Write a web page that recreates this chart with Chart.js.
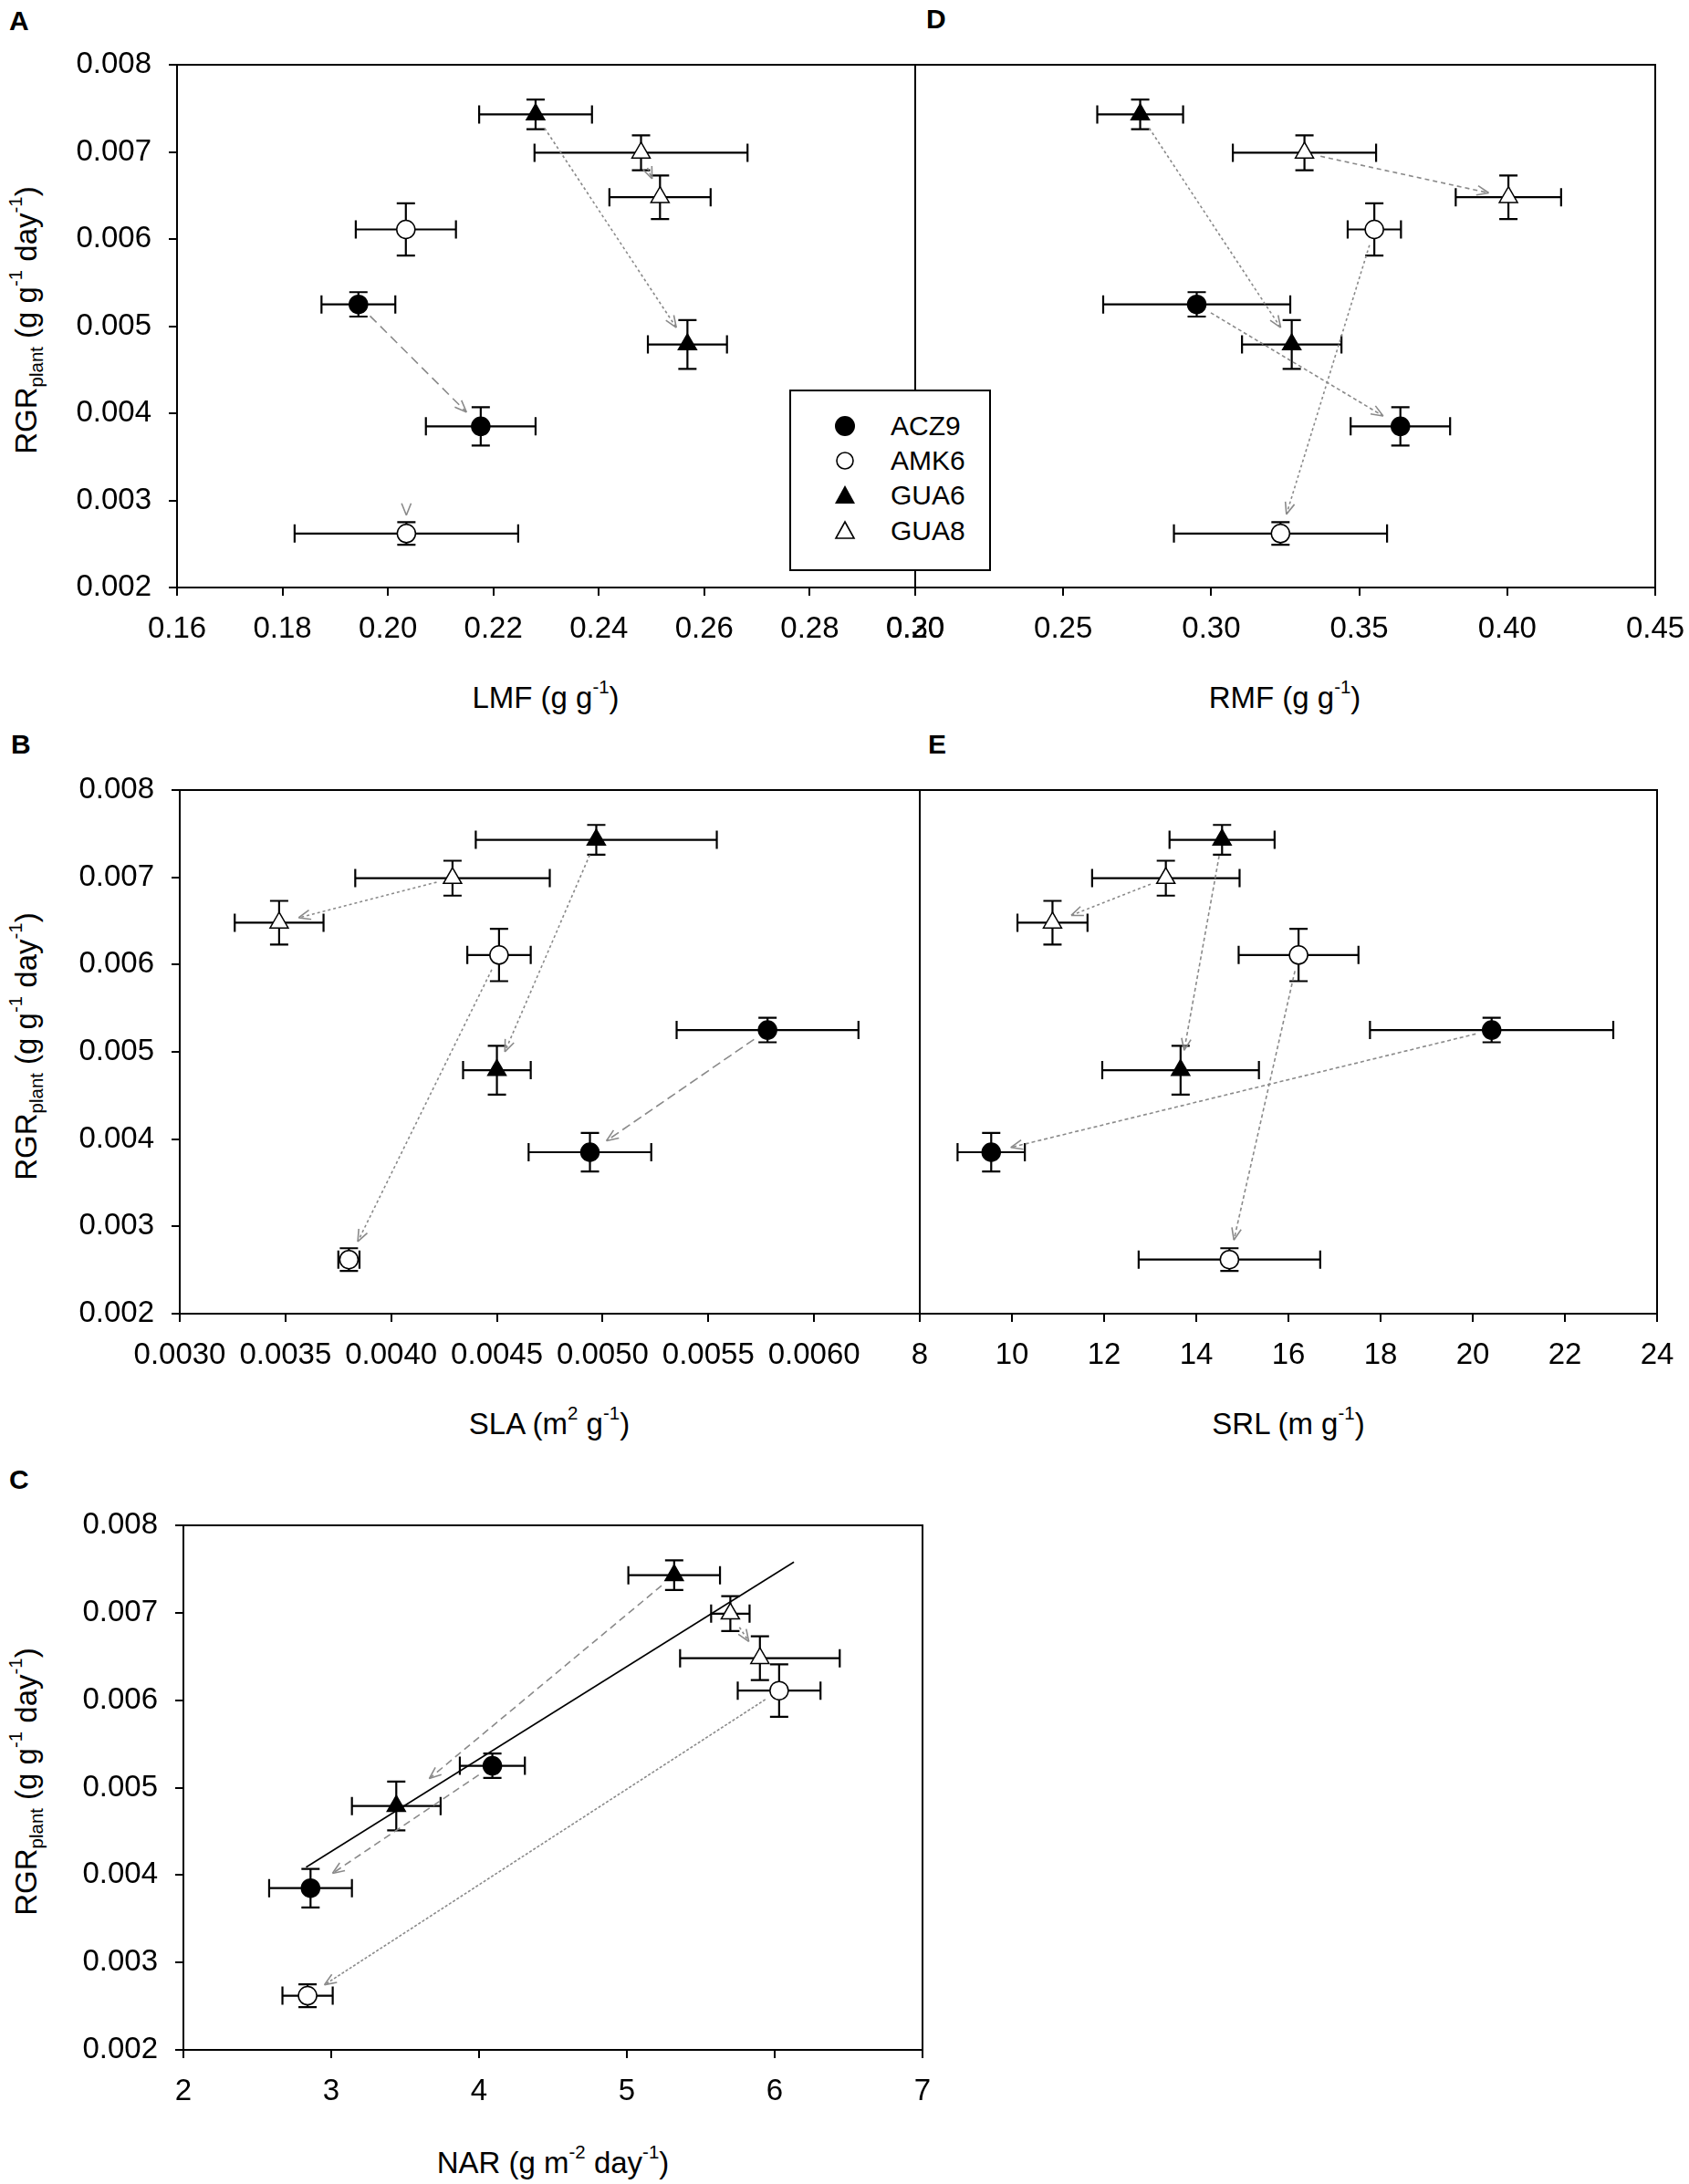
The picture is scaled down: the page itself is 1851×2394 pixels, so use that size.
<!DOCTYPE html>
<html>
<head>
<meta charset="utf-8">
<script src="https://cdn.jsdelivr.net/npm/chart.js@4.4.0/dist/chart.umd.min.js"></script>
<style>
  html, body { margin: 0; padding: 0; background: #fff; }
  #page { position: relative; width: 1851px; height: 2394px; overflow: hidden;
          font-family: "Liberation Sans", Arial, sans-serif; color: #000; }
  canvas { position: absolute; }
  .lbl { position: absolute; font-size: 33px; line-height: 1; white-space: nowrap;
         transform: translate(-50%, -50%); }
  .ylbl { transform: translate(-50%, -50%) rotate(-90deg); }
  .sup { font-size: 0.62em; position: relative; top: -0.8em; }
  .sub { font-size: 0.62em; position: relative; top: 0.35em; }
  .letter { position: absolute; font-size: 30px; font-weight: bold; line-height: 1; }
  #legend { position: absolute; left: 865px; top: 427px; width: 221px; height: 199px;
            box-sizing: border-box; border: 2px solid #000; background: #fff; z-index: 5; }
  #legend svg { position: absolute; left: 44px; }
  #legend .name { position: absolute; left: 109px; font-size: 30px; line-height: 1; }
</style>
</head>
<body>
<div id="page">
  <div class="letter" style="left:10px;top:8px">A</div>
  <div class="letter" style="left:1015px;top:6px">D</div>
  <div class="letter" style="left:12px;top:801px">B</div>
  <div class="letter" style="left:1017px;top:801px">E</div>
  <div class="letter" style="left:10px;top:1607px">C</div>

  <div class="lbl" style="left:598px;top:764px">LMF (g g<span class="sup">-1</span>)</div>
  <div class="lbl" style="left:1408px;top:764px">RMF (g g<span class="sup">-1</span>)</div>
  <div class="lbl" style="left:602px;top:1560px">SLA (m<span class="sup">2</span> g<span class="sup">-1</span>)</div>
  <div class="lbl" style="left:1412px;top:1560px">SRL (m g<span class="sup">-1</span>)</div>
  <div class="lbl" style="left:606px;top:2370px">NAR (g m<span class="sup">-2</span> day<span class="sup">-1</span>)</div>

  <div class="lbl ylbl" style="left:28px;top:351px">RGR<span class="sub">plant</span> (g g<span class="sup">-1</span> day<span class="sup">-1</span>)</div>
  <div class="lbl ylbl" style="left:28px;top:1147px">RGR<span class="sub">plant</span> (g g<span class="sup">-1</span> day<span class="sup">-1</span>)</div>
  <div class="lbl ylbl" style="left:28px;top:1953px">RGR<span class="sub">plant</span> (g g<span class="sup">-1</span> day<span class="sup">-1</span>)</div>

  <div id="legend"></div>
</div>
<script>
// genotypes, each with two harvests: [first, second]
const genotypes = ['ACZ9', 'AMK6', 'GUA6', 'GUA8'];

const rgr    = [[0.00525, 0.00385], [0.00611, 0.00262], [0.00743, 0.00479], [0.00699, 0.00648]];
const rgrErr = [[0.00014, 0.00022], [0.00030, 0.00013], [0.00017, 0.00028], [0.00020, 0.00025]];

const lmf    = [[0.1944, 0.2176], [0.2034, 0.2035], [0.2280, 0.2568], [0.2480, 0.2516]];
const lmfErr = [[0.0070, 0.0104], [0.0095, 0.0212], [0.0107, 0.0075], [0.0202, 0.0096]];

const rmf    = [[0.2951, 0.3639], [0.3551, 0.3234], [0.2760, 0.3272], [0.3315, 0.4004]];
const rmfErr = [[0.0316, 0.0168], [0.0090, 0.0360], [0.0145, 0.0168], [0.0242, 0.0178]];

const sla    = [[0.00578, 0.00494], [0.00451, 0.00380], [0.00497, 0.00450], [0.00429, 0.00347]];
const slaErr = [[0.00043, 0.00029], [0.00015, 0.00005], [0.00057, 0.00016], [0.00046, 0.00021]];

const srl    = [[20.41, 9.55], [16.22, 14.72], [14.56, 13.66], [13.34, 10.88]];
const srlErr = [[2.64, 0.73], [1.30, 1.97], [1.14, 1.70], [1.60, 0.76]];

const nar    = [[4.09, 2.86], [6.03, 2.84], [5.32, 3.44], [5.70, 5.90]];
const narErr = [[0.22, 0.28], [0.28, 0.17], [0.31, 0.30], [0.13, 0.54]];

// regression line in panel C
const narFit = [2.83, 6.13];
const rgrFit = [0.00409, 0.00758];

const rgrTicks = [0.002, 0.003, 0.004, 0.005, 0.006, 0.007, 0.008];
const lmfTicks = [0.16, 0.18, 0.20, 0.22, 0.24, 0.26, 0.28, 0.30];
const rmfTicks = [0.20, 0.25, 0.30, 0.35, 0.40, 0.45];
const slaTicks = [0.0030, 0.0035, 0.0040, 0.0045, 0.0050, 0.0055, 0.0060, 0.0065];
const srlTicks = [8, 10, 12, 14, 16, 18, 20, 22, 24];
const narTicks = [2, 3, 4, 5, 6, 7];

const markerStyle = ['circle', 'circle', 'triangle', 'triangle'];
const markerFill  = ['#000', '#fff', '#000', '#fff'];
const markerSize  = [10, 10, 11.5, 11.5];

Chart.defaults.font.family = '"Liberation Sans", Arial, sans-serif';
Chart.defaults.color = '#000';

const page = document.getElementById('page');

// frame round the plot area
const boxPlugin = {
  id: 'box',
  beforeDatasetsDraw(chart) {
    const a = chart.chartArea, c = chart.ctx;
    c.save();
    c.strokeStyle = '#000';
    c.lineWidth = 2;
    c.strokeRect(a.left, a.top, a.right - a.left, a.bottom - a.top);
    c.restore();
  }
};

// x and y error bars with caps
const errPlugin = {
  id: 'errbars',
  beforeDatasetsDraw(chart) {
    const c = chart.ctx, xs = chart.scales.x, ys = chart.scales.y, cap = 10;
    c.save();
    c.strokeStyle = '#000';
    c.lineWidth = 2.2;
    chart.data.datasets.forEach(ds => {
      if (!ds.xErr) return;
      ds.data.forEach((p, k) => {
        const px = xs.getPixelForValue(p.x), py = ys.getPixelForValue(p.y);
        const x0 = xs.getPixelForValue(p.x - ds.xErr[k]), x1 = xs.getPixelForValue(p.x + ds.xErr[k]);
        const y0 = ys.getPixelForValue(p.y - ds.yErr[k]), y1 = ys.getPixelForValue(p.y + ds.yErr[k]);
        c.beginPath();
        c.moveTo(x0, py); c.lineTo(x1, py);
        c.moveTo(x0, py - cap); c.lineTo(x0, py + cap);
        c.moveTo(x1, py - cap); c.lineTo(x1, py + cap);
        c.moveTo(px, y0); c.lineTo(px, y1);
        c.moveTo(px - cap, y0); c.lineTo(px + cap, y0);
        c.moveTo(px - cap, y1); c.lineTo(px + cap, y1);
        c.stroke();
      });
    });
    c.restore();
  }
};

// grey arrow from first to second harvest of each genotype
const arrowPlugin = {
  id: 'arrows',
  beforeDatasetsDraw(chart, args, opts) {
    const c = chart.ctx, xs = chart.scales.x, ys = chart.scales.y;
    c.save();
    c.strokeStyle = '#8a8a8a';
    c.lineWidth = 1.6;
    chart.data.datasets.forEach((ds, i) => {
      if (!ds.xErr) return;
      const ax = xs.getPixelForValue(ds.data[0].x), ay = ys.getPixelForValue(ds.data[0].y);
      const bx = xs.getPixelForValue(ds.data[1].x), by = ys.getPixelForValue(ds.data[1].y);
      const len = Math.hypot(bx - ax, by - ay), ux = (bx - ax) / len, uy = (by - ay) / len;
      const eg = (opts.endGap && opts.endGap[i]) || 22;
      const ex = bx - ux * eg, ey = by - uy * eg;
      if (!(opts.headOnly && opts.headOnly[i])) {
        c.setLineDash(opts.dash[i]);
        c.beginPath();
        c.moveTo(ax + ux * 18, ay + uy * 18);
        c.lineTo(ex, ey);
        c.stroke();
      }
      c.setLineDash([]);
      const ang = Math.atan2(uy, ux) + Math.PI;
      c.beginPath();
      [-0.38, 0.38].forEach(d => {
        c.moveTo(ex, ey);
        c.lineTo(ex + Math.cos(ang + d) * 14, ey + Math.sin(ang + d) * 14);
      });
      c.stroke();
    });
    c.restore();
  }
};

function panel(box, xv, xe, xTicks, dec, opt) {
  const mL = opt.yLabels ? 190 : 60, mT = 40, mR = 60, mB = 100;
  const cv = document.createElement('canvas');
  cv.width = box.R - box.L + mL + mR;
  cv.height = box.B - box.T + mT + mB;
  cv.style.left = (box.L - mL) + 'px';
  cv.style.top = (box.T - mT) + 'px';
  page.appendChild(cv);

  const datasets = genotypes.map((g, i) => ({
    label: g,
    data: [0, 1].map(k => ({ x: xv[i][k], y: rgr[i][k] })),
    xErr: xe[i],
    yErr: rgrErr[i],
    pointStyle: markerStyle[i],
    pointRadius: markerSize[i],
    backgroundColor: markerFill[i],
    borderColor: '#000',
    borderWidth: 1.5,
    order: 1
  }));
  if (opt.fit) {
    datasets.push({
      label: 'fit',
      data: opt.fit[0].map((x, k) => ({ x: x, y: opt.fit[1][k] })),
      showLine: true, pointRadius: 0, borderColor: '#000', borderWidth: 1.6, order: 5
    });
  }

  new Chart(cv, {
    type: 'scatter',
    data: { datasets: datasets },
    plugins: [boxPlugin, errPlugin, arrowPlugin],
    options: {
      responsive: false,
      animation: false,
      events: [],
      layout: { padding: { left: 0, top: mT, right: mR, bottom: 0 } },
      plugins: {
        legend: { display: false },
        tooltip: { enabled: false },
        arrows: opt.arrows
      },
      scales: {
        x: {
          type: 'linear',
          min: xTicks[0],
          max: xTicks[xTicks.length - 1],
          afterBuildTicks: s => { s.ticks = xTicks.map(v => ({ value: v })); },
          afterFit: s => { s.height = mB; },
          border: { display: false },
          grid: { drawOnChartArea: false, drawTicks: true, tickLength: 9, color: '#000', lineWidth: 2 },
          ticks: {
            padding: 17, autoSkip: false, maxRotation: 0, font: { size: 33 },
            callback: (v, idx) => (opt.hideLast && idx === xTicks.length - 1) ? '' : Number(v).toFixed(dec)
          }
        },
        y: {
          type: 'linear',
          min: 0.002,
          max: 0.008,
          afterBuildTicks: s => { s.ticks = rgrTicks.map(v => ({ value: v })); },
          afterFit: s => { s.width = mL; },
          border: { display: false },
          grid: { display: opt.yLabels, drawOnChartArea: false, drawTicks: true, tickLength: 9, color: '#000', lineWidth: 2 },
          ticks: {
            display: opt.yLabels, padding: 19, font: { size: 33 },
            callback: v => Number(v).toFixed(3)
          }
        }
      }
    }
  });
}

// A
panel({ L: 194, R: 1003, T: 71, B: 644 }, lmf, lmfErr, lmfTicks, 2, {
  yLabels: true,
  arrows: { dash: [[10, 6], [3, 3], [3, 3], [3, 3]], headOnly: [false, true, false, false], endGap: [22, 20, 22, 22] }
});
// D
panel({ L: 1003, R: 1814, T: 71, B: 644 }, rmf, rmfErr, rmfTicks, 2, {
  yLabels: false,
  arrows: { dash: [[4, 3], [3, 3], [3, 3], [5, 4]] }
});
// B
panel({ L: 197, R: 1008, T: 866, B: 1440 }, sla, slaErr, slaTicks, 4, {
  yLabels: true, hideLast: true,
  arrows: { dash: [[10, 5], [3, 3], [3, 3], [3, 3]] }
});
// E
panel({ L: 1008, R: 1816, T: 866, B: 1440 }, srl, srlErr, srlTicks, 0, {
  yLabels: false,
  arrows: { dash: [[4, 3], [4, 3], [4, 3], [3, 3]] }
});
// C
panel({ L: 201, R: 1011, T: 1672, B: 2247 }, nar, narErr, narTicks, 0, {
  yLabels: true,
  fit: [narFit, rgrFit],
  arrows: { dash: [[8, 5], [3, 2], [8, 5], [3, 3]], endGap: [29, 22, 47, 22] }
});

// legend box (straddles panels A and D)
const legend = document.getElementById('legend');
const legendRows = [38, 76, 114, 153];
const legendShapes = [
  '<circle cx="15" cy="15" r="11" fill="#000"/>',
  '<circle cx="15" cy="15" r="9" fill="#fff" stroke="#000" stroke-width="1.6"/>',
  '<polygon points="15,4 26,24 4,24" fill="#000"/>',
  '<polygon points="15,5 25,23 5,23" fill="#fff" stroke="#000" stroke-width="1.6"/>'
];
genotypes.forEach((g, i) => {
  const y = legendRows[i];
  legend.insertAdjacentHTML('beforeend',
    '<svg width="30" height="30" style="top:' + (y - 15) + 'px">' + legendShapes[i] + '</svg>' +
    '<div class="name" style="top:' + (y - 15) + 'px">' + g + '</div>');
});
</script>
</body>
</html>
